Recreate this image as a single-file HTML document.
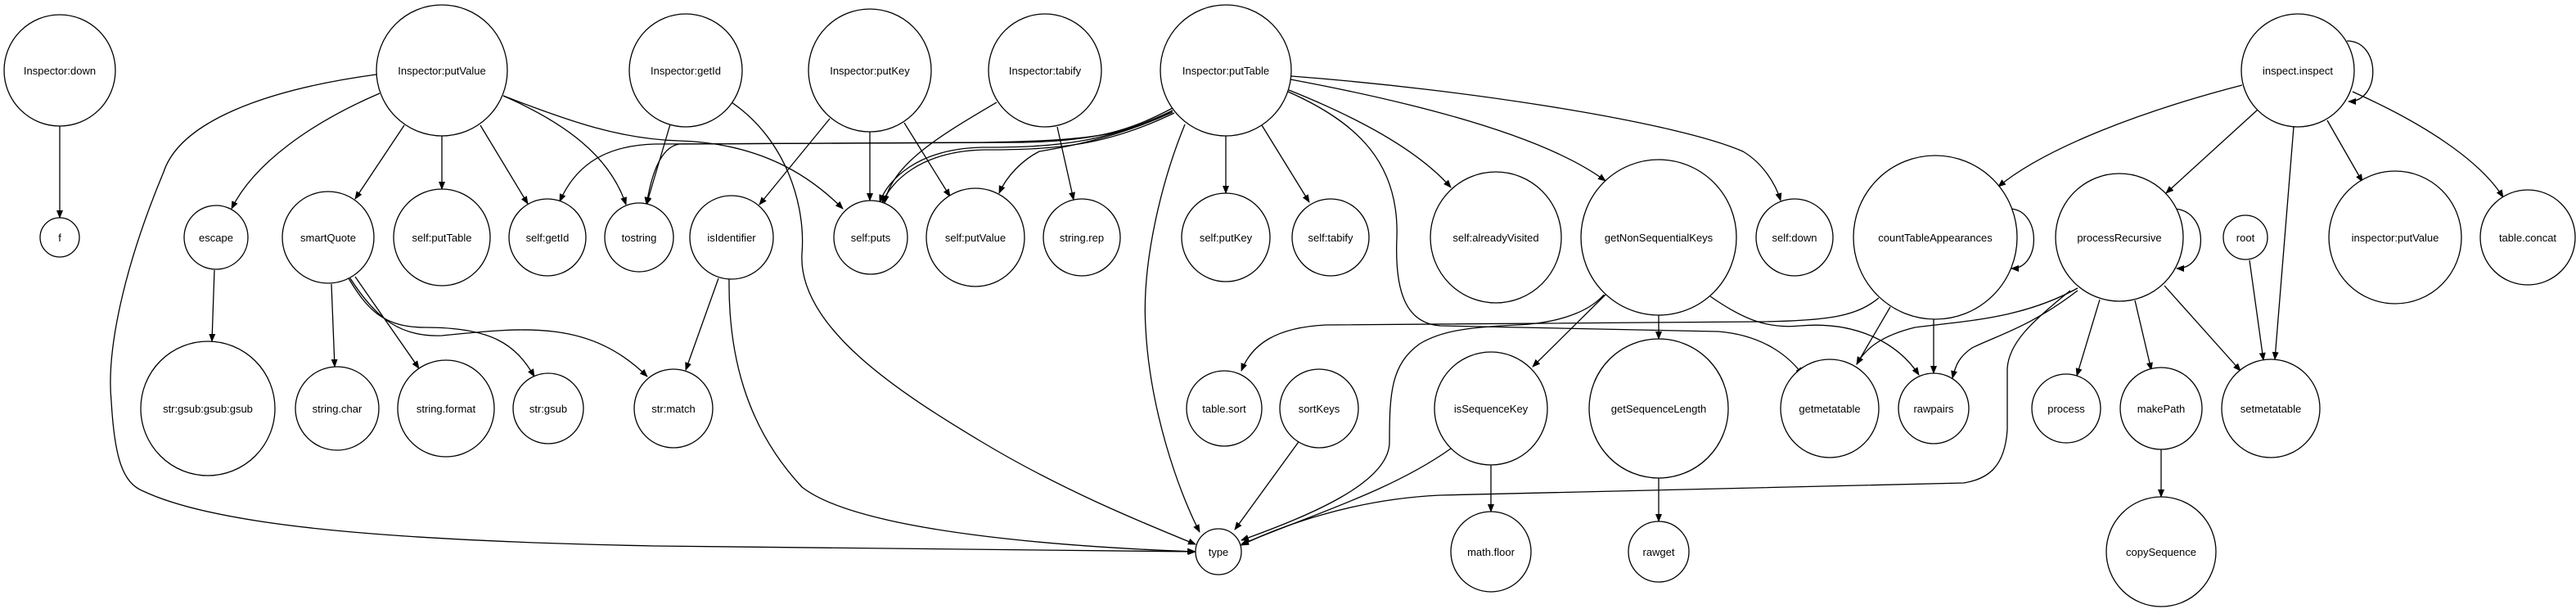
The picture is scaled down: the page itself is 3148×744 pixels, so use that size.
<!DOCTYPE html>
<html><head><meta charset="utf-8"><style>html,body{margin:0;padding:0;background:#fff}svg{display:block}</style></head>
<body>
<svg width="3148" height="744" viewBox="0 0 3148 744" xmlns="http://www.w3.org/2000/svg">
<defs><marker id="a" markerWidth="10" markerHeight="8" refX="9" refY="4" orient="auto" markerUnits="userSpaceOnUse"><path d="M0,0 L10,4 L0,8 z" fill="#000"/></marker></defs>
<g fill="none" stroke="#000" stroke-width="1.3" marker-end="url(#a)">
<path d="M73,154 L73,266"/>
<path d="M460,91 C320,110 220,150 200,210 C150,330 130,430 136,490 C140,560 150,590 175,600 C260,640 450,660 800,667 L1461,674"/>
<path d="M464,114 C380,150 310,200 283,255"/>
<path d="M494,153 L434,243"/>
<path d="M540,166 L540,231"/>
<path d="M587,153 L645,249"/>
<path d="M615,117 C690,150 745,190 765,250"/>
<path d="M615,117 C700,150 760,170 830,172 C930,175 990,215 1030,255"/>
<path d="M819,152 L790,250"/>
<path d="M894,125 C960,170 985,250 980,310 C975,400 1100,480 1200,540 C1300,600 1400,640 1461,665"/>
<path d="M1014,145 L928,250"/>
<path d="M1063,161 L1063,245"/>
<path d="M1105,150 L1161,240"/>
<path d="M1218,125 C1150,165 1090,200 1081,248"/>
<path d="M1292,155 L1312,244"/>
<path d="M1433,132 C1380,160 1340,172 1250,174 L800,176 C730,178 700,210 684,246"/>
<path d="M1433,135 C1380,165 1330,172 1200,174 L830,176 C805,180 795,220 790,250"/>
<path d="M1433,135 C1350,175 1290,180 1200,180 C1120,182 1085,220 1075,247"/>
<path d="M1435,138 C1352,178 1292,183 1202,183 C1124,185 1089,222 1078,248"/>
<path d="M1433,137 C1360,170 1300,180 1270,185 C1250,195 1230,215 1221,236"/>
<path d="M1448,152 C1420,220 1395,320 1400,400 C1405,500 1440,600 1466,650"/>
<path d="M1498,166 L1498,236"/>
<path d="M1542,153 L1600,247"/>
<path d="M1575,110 C1650,140 1730,180 1773,229"/>
<path d="M1577,97 C1700,120 1880,160 1962,221"/>
<path d="M1578,93 C1800,110 2050,150 2130,185 C2155,200 2170,225 2176,245"/>
<path d="M1574,112 C1660,150 1710,200 1707,290 C1704,360 1720,395 1760,398 L2100,405 C2160,410 2190,440 2203,458"/>
<path d="M2090,362 C2130,390 2160,402 2200,398 C2270,392 2320,420 2345,458"/>
<path d="M1962,360 L1873,448"/>
<path d="M2027,385 L2027,414"/>
<path d="M1960,360 C1940,383 1900,395 1853,397 C1790,400 1760,405 1735,420 C1700,445 1698,480 1698,540 C1698,590 1600,630 1517,660"/>
<path d="M2310,375 L2269,445"/>
<path d="M2363,390 L2363,456"/>
<path d="M2296,364 C2270,385 2240,392 2150,393 L1620,397 C1560,400 1530,420 1517,453"/>
<path d="M2539,352 C2470,390 2400,392 2340,400 C2300,410 2280,425 2269,445"/>
<path d="M2539,355 C2480,400 2440,410 2410,425 C2395,435 2390,445 2386,462"/>
<path d="M2530,355 C2480,395 2455,420 2453,450 L2453,525 C2450,570 2430,585 2400,590 L1760,605 C1650,610 1560,645 1517,666"/>
<path d="M2455,255 C2495,255 2495,328 2458,328"/>
<path d="M2655,255 C2700,255 2700,328 2660,328"/>
<path d="M2868,50 C2910,50 2910,124 2870,124"/>
<path d="M1589,537 L1509,647"/>
<path d="M1773,548 C1700,600 1600,630 1517,665"/>
<path d="M1822,568 L1822,625"/>
<path d="M2027,584 L2027,637"/>
<path d="M405,347 L409,448"/>
<path d="M434,338 L512,450"/>
<path d="M426,340 C450,380 470,400 520,400 C600,400 630,420 653,460"/>
<path d="M428,340 C460,390 490,412 540,410 C640,400 720,390 791,460"/>
<path d="M262,330 L259,417"/>
<path d="M878,340 L838,452"/>
<path d="M891,341 C890,430 910,520 980,595 C1050,650 1300,668 1460,674"/>
<path d="M2740,104 C2620,135 2500,180 2442,228"/>
<path d="M2759,134 L2647,236"/>
<path d="M2803,155 L2780,439"/>
<path d="M2844,147 L2887,222"/>
<path d="M2875,112 C2960,150 3030,195 3059,241"/>
<path d="M2749,318 L2766,440"/>
<path d="M2566,366 L2538,459"/>
<path d="M2609,367 L2629,452"/>
<path d="M2645,349 L2738,453"/>
<path d="M2641,549 L2641,607"/>
</g>
<g fill="#fff" stroke="#000" stroke-width="1.3">
<circle cx="73" cy="86" r="68"/><circle cx="73" cy="290" r="24"/>
<circle cx="540" cy="86" r="80"/><circle cx="264" cy="290" r="39"/><circle cx="401" cy="290" r="56"/><circle cx="540" cy="290" r="59"/><circle cx="669" cy="290" r="47"/><circle cx="781" cy="290" r="42"/>
<circle cx="254" cy="499" r="82"/><circle cx="412" cy="499" r="51"/><circle cx="545" cy="499" r="59"/><circle cx="670" cy="499" r="43"/><circle cx="823" cy="499" r="48"/>
<circle cx="838" cy="86" r="69"/><circle cx="1063" cy="86" r="75"/><circle cx="1277" cy="86" r="69"/><circle cx="1498" cy="86" r="80"/>
<circle cx="894" cy="290" r="51"/><circle cx="1064" cy="290" r="45"/><circle cx="1192" cy="290" r="60"/><circle cx="1322" cy="290" r="47"/><circle cx="1498" cy="290" r="54"/><circle cx="1626" cy="290" r="47"/>
<circle cx="1496" cy="499" r="46"/><circle cx="1612" cy="499" r="48"/><circle cx="1489" cy="674" r="28"/>
<circle cx="1828" cy="290" r="80"/><circle cx="2027" cy="290" r="95"/><circle cx="2193" cy="290" r="47"/><circle cx="2365" cy="290" r="100"/>
<circle cx="1822" cy="499" r="69"/><circle cx="2027" cy="499" r="85"/><circle cx="2236" cy="499" r="60"/><circle cx="2363" cy="499" r="43"/>
<circle cx="1822" cy="674" r="49"/><circle cx="2027" cy="674" r="37"/>
<circle cx="2808" cy="86" r="69"/><circle cx="2590" cy="290" r="78"/><circle cx="2744" cy="290" r="27"/><circle cx="2927" cy="290" r="81"/><circle cx="3089" cy="290" r="58"/>
<circle cx="2525" cy="499" r="42"/><circle cx="2641" cy="499" r="50"/><circle cx="2775" cy="499" r="60"/><circle cx="2641" cy="674" r="67"/>
</g>
<g font-family="Liberation Sans, sans-serif" font-size="13" text-anchor="middle" fill="#000">
<text x="73" y="91">Inspector:down</text><text x="73" y="295">f</text>
<text x="540" y="91">Inspector:putValue</text><text x="264" y="295">escape</text><text x="401" y="295">smartQuote</text><text x="540" y="295">self:putTable</text><text x="669" y="295">self:getId</text><text x="781" y="295">tostring</text>
<text x="254" y="504">str:gsub:gsub:gsub</text><text x="412" y="504">string.char</text><text x="545" y="504">string.format</text><text x="670" y="504">str:gsub</text><text x="823" y="504">str:match</text>
<text x="838" y="91">Inspector:getId</text><text x="1063" y="91">Inspector:putKey</text><text x="1277" y="91">Inspector:tabify</text><text x="1498" y="91">Inspector:putTable</text>
<text x="894" y="295">isIdentifier</text><text x="1064" y="295">self:puts</text><text x="1192" y="295">self:putValue</text><text x="1322" y="295">string.rep</text><text x="1498" y="295">self:putKey</text><text x="1626" y="295">self:tabify</text>
<text x="1496" y="504">table.sort</text><text x="1612" y="504">sortKeys</text><text x="1489" y="679">type</text>
<text x="1828" y="295">self:alreadyVisited</text><text x="2027" y="295">getNonSequentialKeys</text><text x="2193" y="295">self:down</text><text x="2365" y="295">countTableAppearances</text>
<text x="1822" y="504">isSequenceKey</text><text x="2027" y="504">getSequenceLength</text><text x="2236" y="504">getmetatable</text><text x="2363" y="504">rawpairs</text>
<text x="1822" y="679">math.floor</text><text x="2027" y="679">rawget</text>
<text x="2808" y="91">inspect.inspect</text><text x="2590" y="295">processRecursive</text><text x="2744" y="295">root</text><text x="2927" y="295">inspector:putValue</text><text x="3089" y="295">table.concat</text>
<text x="2525" y="504">process</text><text x="2641" y="504">makePath</text><text x="2775" y="504">setmetatable</text><text x="2641" y="679">copySequence</text>
</g>
</svg>
</body></html>
